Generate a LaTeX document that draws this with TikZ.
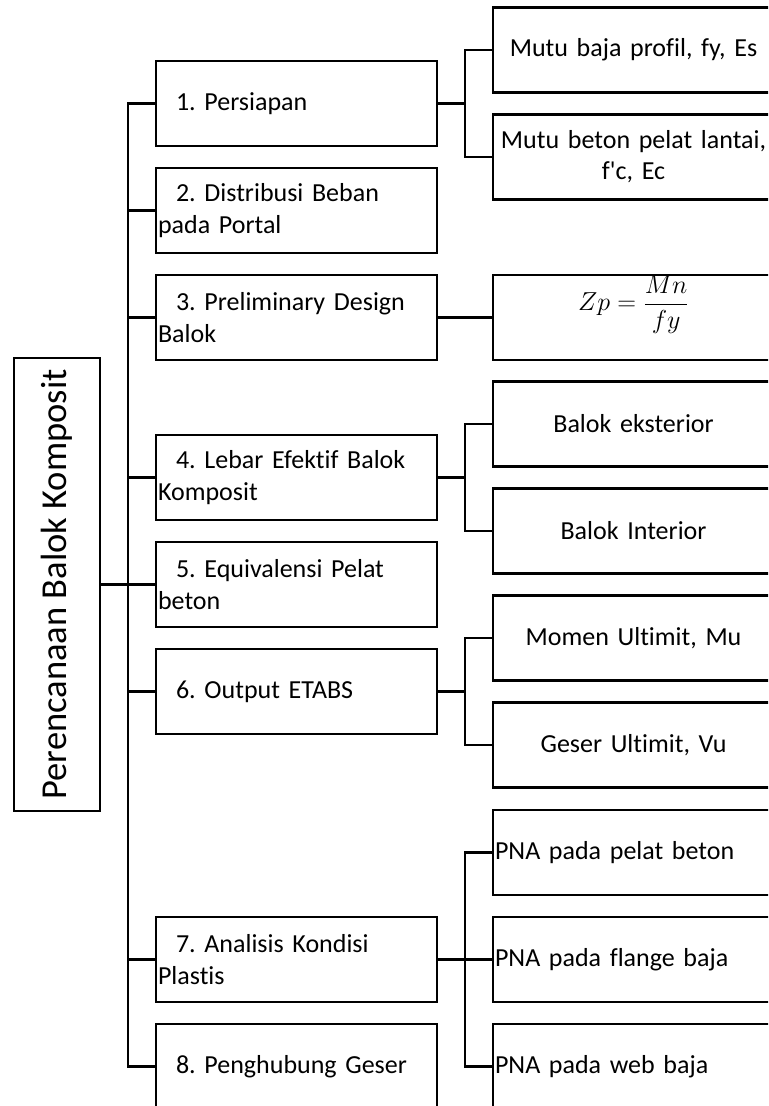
\RequirePackage{fix-cm}
\documentclass[tikz,border=0pt]{standalone}
\usepackage{fontspec}
\setmainfont{Carlito}[Ligatures=CommonOff]
\usepackage{amsmath}
\usetikzlibrary{positioning}
\frenchspacing

\begin{document}
\begin{tikzpicture}[
  font=\fontsize{19.5}{23.5}\selectfont,
  root/.style={draw, line width=1.6pt, outer sep=0pt, rotate=90, inner sep=0pt,
               minimum width=339.75pt, minimum height=64.5pt,
               font=\fontsize{27.4}{33}\selectfont},
  item/.style={draw, line width=1.6pt, outer sep=0pt, align=left,
               text width=207.75pt, inner xsep=1.5pt, minimum height=63.75pt},
  sub/.style={item, align=center},
  link/.style={line width=1.6pt},
  node distance=16.5pt
]
\useasboundingbox (0,0) rectangle (576pt,-829.5pt);
\clip (0,0) rectangle (576pt,-829.5pt);

% main steps
\node (b1) [item] at (222.4pt,-77.6pt) {\hspace*{13.5pt}1. Persiapan};
\node (b2) [item, below=of b1] {\hspace*{13.5pt}2. Distribusi Beban\\pada Portal};
\node (b3) [item, below=of b2] {\hspace*{13.5pt}3. Preliminary Design\\Balok};
\node (b4) [item, below=56.25pt of b3] {\hspace*{13.5pt}4. Lebar Efektif Balok\\Komposit};
\node (b5) [item, below=of b4] {\hspace*{13.5pt}5. Equivalensi Pelat\\beton};
\node (b6) [item, below=of b5] {\hspace*{13.5pt}6. Output ETABS};
\node (b7) [item, below=137.25pt of b6] {\hspace*{13.5pt}7. Analisis Kondisi\\Plastis};
\node (b8) [item, below=of b7] {\hspace*{13.5pt}8. Penghubung Geser};

\node (root) [root, left=42pt of b5, anchor=south] {Perencanaan Balok Komposit};

% details
\node (fy) [sub, right=42pt of b1, yshift=40.125pt] {Mutu baja profil, fy, Es};
\node (fc) [sub, below=of fy] {Mutu beton pelat lantai,\\f\textquotesingle c, Ec};
\node (zp) [sub, right=42pt of b3]
  {\raisebox{5pt}[0pt][0pt]{$Zp = \dfrac{Mn}{fy}$}};
\node (ext) [sub, right=42pt of b4, yshift=40.125pt] {Balok eksterior};
\node (int) [sub, below=of ext] {Balok Interior};
\node (mu) [sub, right=42pt of b6, yshift=40.125pt] {Momen Ultimit, Mu};
\node (vu) [sub, below=of mu] {Geser Ultimit, Vu};
\node (pna2) [item, right=42pt of b7] {PNA pada flange baja};
\node (pna1) [item, above=of pna2] {PNA pada pelat beton};
\node (pna3) [item, below=of pna2] {PNA pada web baja};

\foreach \c in {b1,b2,b3,b4,b5,b6,b7,b8}
  \draw[link] (root.south) -- ++(21pt,0) |- (\c.west);
\foreach \p/\c in {b1/fy, b1/fc, b3/zp, b4/ext, b4/int, b6/mu, b6/vu,
                   b7/pna1, b7/pna2, b7/pna3}
  \draw[link] (\p.east) -- ++(21pt,0) |- (\c.west);
\end{tikzpicture}
\end{document}
